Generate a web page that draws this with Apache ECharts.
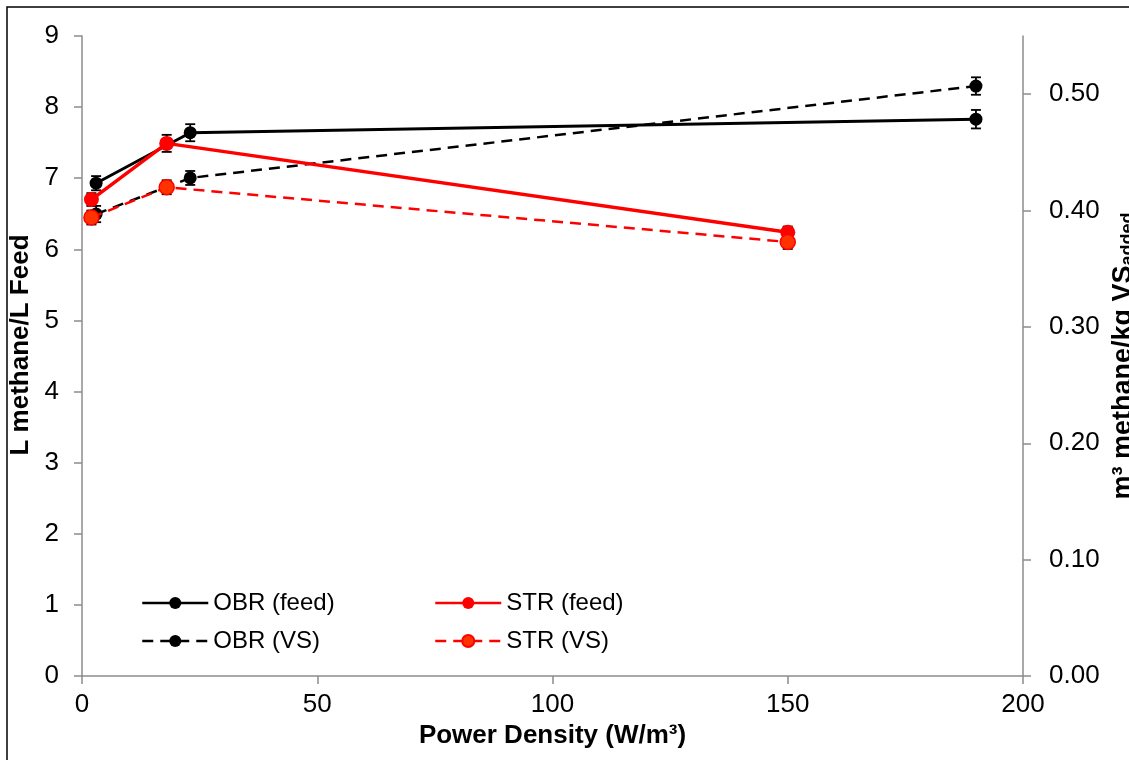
<!DOCTYPE html>
<html>
<head>
<meta charset="utf-8">
<title>Methane yield vs power density</title>
<script src="https://cdn.jsdelivr.net/npm/echarts@6/dist/echarts.min.js"></script>
<style>
  html, body { margin: 0; padding: 0; background: #fff; }
  #chart { width: 1129px; height: 760px; }
</style>
</head>
<body>
<div id="chart"></div>
<script>
// Power density (W/m³) of each reactor run
const xOBR = [3, 23, 190];
const xSTR = [2, 18, 150];

// Methane yield per litre of feed (left axis)
const obrFeed = [6.93, 7.64, 7.83];
const strFeed = [6.70, 7.49, 6.24];
const obrFeedErr = [0.10, 0.12, 0.13];
const strFeedErr = [0.09, 0.12, 0.08];

// Methane yield per kg VS added (right axis)
const obrVS = [0.397, 0.428, 0.507];
const strVS = [0.394, 0.420, 0.373];
const obrVSErr = [0.007, 0.006, 0.0075];
const strVSErr = [0.006, 0.006, 0.006];

// Axis ticks
const xTicks = [0, 50, 100, 150, 200];
const rightTicks = [0, 0.1, 0.2, 0.3, 0.4, 0.5];

const FONT = '"Liberation Sans", Arial, sans-serif';
const AXIS_GREY = '#8c8c8c';

function pairs(xs, ys) { return xs.map((x, i) => [x, ys[i]]); }
function triples(xs, ys, es) { return xs.map((x, i) => [x, ys[i], es[i]]); }

// Vertical error bar with short caps
function renderErr(params, api) {
  const x = api.value(0), y = api.value(1), e = api.value(2);
  const hi = api.coord([x, y + e]);
  const lo = api.coord([x, y - e]);
  const cap = 5;
  const style = { stroke: '#000', lineWidth: 1.8 };
  return {
    type: 'group',
    children: [
      { type: 'line', shape: { x1: hi[0], y1: hi[1], x2: lo[0], y2: lo[1] }, style },
      { type: 'line', shape: { x1: hi[0] - cap, y1: hi[1], x2: hi[0] + cap, y2: hi[1] }, style },
      { type: 'line', shape: { x1: lo[0] - cap, y1: lo[1], x2: lo[0] + cap, y2: lo[1] }, style }
    ]
  };
}

function errSeries(xs, ys, es, yAxisIndex) {
  return {
    type: 'custom',
    yAxisIndex,
    renderItem: renderErr,
    encode: { x: 0, y: 1 },
    data: triples(xs, ys, es),
    z: 1,
    silent: true
  };
}

const chart = echarts.init(document.getElementById('chart'), null, { renderer: 'canvas' });

const axisLine = { show: true, lineStyle: { color: AXIS_GREY, width: 1.5 } };
const axisTick = { show: true, inside: false, length: 8, lineStyle: { color: AXIS_GREY, width: 1.5 } };

const legendBase = {
  orient: 'vertical', top: 591, padding: 0,
  itemWidth: 66, itemHeight: 15, itemGap: 14,
  lineStyle: { width: 2.5 },
  textStyle: { fontSize: 24, color: '#000', fontFamily: FONT }
};

chart.setOption({
  animation: false,
  backgroundColor: '#fff',
  textStyle: { fontFamily: FONT },
  grid: { left: 82, right: 106, top: 36, bottom: 84, containLabel: false, outerBoundsMode: 'none' },
  graphic: [{
    type: 'rect',
    shape: { x: 7, y: 7, width: 1140, height: 780 },
    style: { fill: 'none', stroke: '#000', lineWidth: 1.5 },
    silent: true,
    z: -10
  }],
  legend: [
    Object.assign({}, legendBase, { left: 141, data: ['OBR (feed)', 'OBR (VS)'] }),
    Object.assign({}, legendBase, { left: 434, data: ['STR (feed)', 'STR (VS)'] })
  ],
  xAxis: {
    type: 'value', min: 0, max: 200, interval: 50,
    name: 'Power Density (W/m³)', nameLocation: 'middle', nameGap: 47,
    nameTextStyle: { fontSize: 26, fontWeight: 'bold', color: '#000', fontFamily: FONT },
    axisLine, axisTick,
    axisLabel: { fontSize: 26, color: '#000', margin: 16, fontFamily: FONT, customValues: xTicks },
    splitLine: { show: false }
  },
  yAxis: [
    {
      type: 'value', min: 0, max: 9, interval: 1, position: 'left',
      name: 'L methane/L Feed', nameLocation: 'middle', nameGap: 42,
      nameTextStyle: { fontSize: 26, fontWeight: 'bold', color: '#000', fontFamily: FONT, padding: [0, 0, 0, 22] },
      axisLine, axisTick,
      axisLabel: { fontSize: 26, color: '#000', margin: 23, fontFamily: FONT },
      splitLine: { show: false }
    },
    {
      type: 'value', min: 0, max: 0.55, position: 'right',
      name: '{m|m³ methane/kg VS}{s|added}', nameLocation: 'middle', nameGap: 80,
      nameTextStyle: {
        fontFamily: FONT,
        rich: {
          m: { fontSize: 27, fontWeight: 'bold', color: '#000', fontFamily: FONT },
          s: { fontSize: 18, fontWeight: 'bold', color: '#000', fontFamily: FONT, verticalAlign: 'bottom' }
        }
      },
      axisLine,
      axisTick: Object.assign({}, axisTick, { customValues: rightTicks }),
      axisLabel: {
        fontSize: 26, color: '#000', margin: 26, fontFamily: FONT,
        customValues: rightTicks,
        formatter: v => v.toFixed(2)
      },
      splitLine: { show: false }
    }
  ],
  series: [
    errSeries(xOBR, obrFeed, obrFeedErr, 0),
    errSeries(xSTR, strFeed, strFeedErr, 0),
    errSeries(xOBR, obrVS, obrVSErr, 1),
    errSeries(xSTR, strVS, strVSErr, 1),
    {
      name: 'OBR (feed)', type: 'line', yAxisIndex: 0,
      data: pairs(xOBR, obrFeed),
      symbol: 'circle', symbolSize: 13,
      lineStyle: { color: '#000', width: 3 },
      itemStyle: { color: '#000' },
      z: 3
    },
    {
      name: 'OBR (VS)', type: 'line', yAxisIndex: 1,
      data: pairs(xOBR, obrVS),
      symbol: 'circle', symbolSize: 13,
      lineStyle: { color: '#000', width: 2.5, type: [11, 7] },
      itemStyle: { color: '#000' },
      z: 3
    },
    {
      name: 'STR (feed)', type: 'line', yAxisIndex: 0,
      data: pairs(xSTR, strFeed),
      symbol: 'circle', symbolSize: 15,
      lineStyle: { color: '#ff0000', width: 3.5 },
      itemStyle: { color: '#ff0000' },
      z: 4
    },
    {
      name: 'STR (VS)', type: 'line', yAxisIndex: 1,
      data: pairs(xSTR, strVS),
      symbol: 'circle', symbolSize: 15,
      lineStyle: { color: '#ff0000', width: 2.5, type: [11, 7] },
      itemStyle: { color: '#ff3300', borderColor: '#ff0000', borderWidth: 1.5 },
      z: 4
    }
  ]
});
</script>
</body>
</html>
